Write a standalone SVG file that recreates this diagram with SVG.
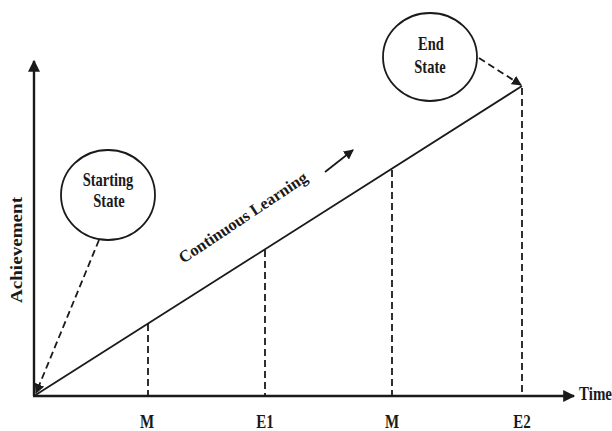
<svg xmlns="http://www.w3.org/2000/svg" width="612" height="431" viewBox="0 0 612 431">
<style>
text{font-family:"Liberation Serif","Times New Roman",serif;font-weight:bold;fill:#1a1a1a}
.ax{stroke:#1a1a1a;stroke-width:2.4;fill:none}
.ln{stroke:#1a1a1a;stroke-width:1.8;fill:none}
.ds{stroke:#1a1a1a;stroke-width:1.8;fill:none;stroke-dasharray:7 4}
.nd{fill:#fff;stroke:#1a1a1a;stroke-width:1.8}
</style>
<defs>
<marker id="ah" viewBox="0 0 10 10" refX="9" refY="5" markerWidth="10" markerHeight="10" markerUnits="userSpaceOnUse" orient="auto">
<path d="M0,0 L10,5 L0,10 Z" fill="#1a1a1a"/>
</marker>
<marker id="ahb" viewBox="0 0 10 10" refX="9" refY="5" markerWidth="13" markerHeight="12" markerUnits="userSpaceOnUse" orient="auto">
<path d="M0,0 L10,5 L0,10 Z" fill="#1a1a1a"/>
</marker>
</defs>
<rect width="612" height="431" fill="#fff"/>
<g id="connectors">
<line class="ax" x1="34" y1="396" x2="34" y2="61" marker-end="url(#ahb)"/>
<line class="ax" x1="33" y1="396" x2="574" y2="396" marker-end="url(#ahb)"/>
<line class="ln" x1="34" y1="396" x2="522" y2="86"/>
<line class="ds" x1="148" y1="324" x2="148" y2="396"/>
<line class="ds" x1="265" y1="250" x2="265" y2="396"/>
<line class="ds" x1="392" y1="170" x2="392" y2="396"/>
<line class="ds" x1="522" y1="88" x2="522" y2="396"/>
<line class="ds" x1="99" y1="240" x2="36" y2="393" marker-end="url(#ah)"/>
<line class="ds" x1="479" y1="58" x2="521" y2="85" marker-end="url(#ah)"/>
<line class="ln" x1="325" y1="172" x2="353" y2="150" marker-end="url(#ah)"/>
</g>
<g id="starting-state">
<ellipse class="nd" cx="108" cy="195" rx="47" ry="45"/>
<text font-size="14.5" text-anchor="middle" transform="translate(108 186) scale(1 1.3)">Starting</text>
<text font-size="14.5" text-anchor="middle" transform="translate(109 207) scale(1 1.3)">State</text>
</g>
<g id="end-state">
<ellipse class="nd" cx="430" cy="57" rx="47" ry="44"/>
<text font-size="14.5" text-anchor="middle" transform="translate(431 50) scale(1 1.3)">End</text>
<text font-size="14.5" text-anchor="middle" transform="translate(430 73) scale(1 1.3)">State</text>
</g>
<g id="labels">
<text x="246" y="222" font-size="16.5" text-anchor="middle" transform="rotate(-33.7 246 222)">Continuous Learning</text>
<text x="0" y="0" font-size="17" text-anchor="middle" textLength="106" lengthAdjust="spacingAndGlyphs" transform="translate(22 250) rotate(-90)">Achievement</text>
<text font-size="15" transform="translate(579 400) scale(1 1.2)">Time</text>
<text font-size="15" text-anchor="middle" transform="translate(147 428) scale(1 1.2)">M</text>
<text font-size="15" text-anchor="middle" transform="translate(265 428) scale(1 1.2)">E1</text>
<text font-size="15" text-anchor="middle" transform="translate(392 428) scale(1 1.2)">M</text>
<text font-size="15" text-anchor="middle" transform="translate(522 428) scale(1 1.2)">E2</text>
</g>
</svg>
